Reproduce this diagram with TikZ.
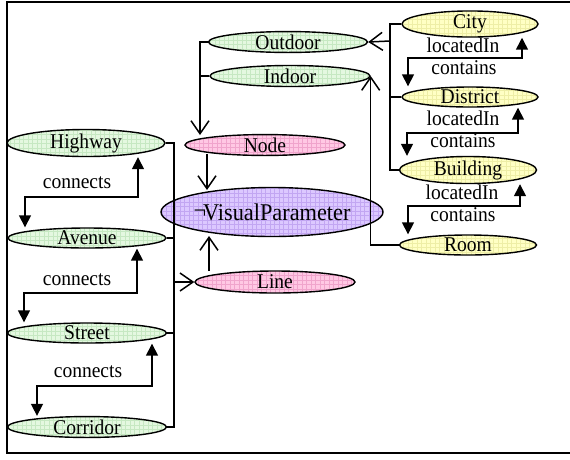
\documentclass[tikz,border=0pt]{standalone}
\usepackage{fontspec}
\setmainfont{Liberation Serif}[FakeStretch=0.93]
\usetikzlibrary{shapes.geometric,arrows.meta,calc}
\definecolor{gfill}{HTML}{E4F8E0}
\definecolor{ggrid}{HTML}{C6E8C2}
\definecolor{pfill}{HTML}{FFC8E4}
\definecolor{pgrid}{HTML}{F0A4CC}
\definecolor{vfill}{HTML}{DCC8FF}
\definecolor{vgrid}{HTML}{C2A6F2}
\definecolor{yfill}{HTML}{FFFFC4}
\definecolor{ygrid}{HTML}{EEEEA6}
\begin{document}
\begin{tikzpicture}[x=1pt,y=-1pt,
  ell/.style={ellipse,draw,line width=1.4pt,inner sep=0pt,minimum height=20pt,
    font=\fontsize{21}{21}\selectfont},
  greenell/.style={ell,fill=gfill,path picture={\draw[ggrid,line width=0.4pt,step=4.5pt]
    (path picture bounding box.south west) grid (path picture bounding box.north east);}},
  pinkell/.style={ell,fill=pfill,path picture={\draw[pgrid,line width=0.4pt,step=4.5pt]
    (path picture bounding box.south west) grid (path picture bounding box.north east);}},
  purpleell/.style={ell,fill=vfill,path picture={\draw[vgrid,line width=0.4pt,step=4.5pt]
    (path picture bounding box.south west) grid (path picture bounding box.north east);}},
  yellowell/.style={ell,fill=yfill,path picture={\draw[ygrid,line width=0.4pt,step=4.5pt]
    (path picture bounding box.south west) grid (path picture bounding box.north east);}},
  isa/.style={-{Straight Barb[length=13pt,width=18pt]},line width=1.5pt},
  rel/.style={{Triangle[length=12pt,width=12pt]}-{Triangle[length=12pt,width=12pt]},line width=1.5pt},
  wire/.style={line width=1.5pt},
  lbl/.style={font=\fontsize{21}{21}\selectfont,inner sep=0pt}
]
\useasboundingbox (0,0) rectangle (570,459);
\draw[line width=2pt] (572,1.5) -- (6.5,1.5) -- (6.5,453) -- (572,453);

% left column
\node[greenell,minimum width=158pt] (hw) at (86,143) {Highway};
\node[greenell,minimum width=158pt] (av) at (87,238) {Avenue};
\node[greenell,minimum width=159pt] (st) at (87,333) {Street};
\node[greenell,minimum width=159pt] (co) at (87,427) {Corridor};

% centre
\node[greenell,minimum width=159pt] (od) at (288,42) {Outdoor};
\node[greenell,minimum width=160pt,minimum height=21pt] (id) at (290,76) {Indoor};
\node[pinkell,minimum width=160pt] (nd) at (265,145) {Node};
\node[purpleell,minimum width=185pt,minimum height=49pt,font=\fontsize{24}{24}\selectfont] (vp) at (272,212) {\raisebox{2pt}{¬}\kern-3pt VisualParameter};
\node[pinkell,minimum width=160pt,minimum height=22pt] (ln) at (275,282) {Line};

% right column
\node[yellowell,minimum width=136pt,minimum height=19pt] (ct) at (470,24) {City};
\node[yellowell,minimum width=136pt] (ds) at (470,97) {District};
\node[yellowell,minimum width=137pt,minimum height=21pt] (bd) at (468,170) {Building};
\node[yellowell,minimum width=137pt] (rm) at (468,245) {Room};

% bus: roads -> Line
\coordinate (busL) at (174,282);
\draw[wire] (hw.east) -| (busL) |- (co.east);
\draw[wire] (av.east) -- (av.east -| busL);
\draw[wire] (st.east) -- (st.east -| busL);
\draw[isa] (busL) -- (ln.west);

% bus: Outdoor/Indoor -> Node
\coordinate (ndtop) at (200,135);
\draw[isa] (od.west) -| (ndtop);
\draw[wire] (id.west) -- (id.west -| ndtop);

% Node, Line -> VisualParameter
\coordinate (n1) at (207,154);
\coordinate (n2) at (207,190);
\draw[isa] (n1) -- (n2);
\coordinate (l1) at (209,271);
\coordinate (l2) at (209,236);
\draw[isa] (l1) -- (l2);

% Room -> Indoor
\draw[isa] (rm.west) -| (id.east);

% bus: City/District/Building -> Outdoor
\coordinate (busR) at (390,41);
\draw[wire] (ct.west) -| (busR) |- (bd.west);
\draw[wire] (ds.west) -- (ds.west -| busR);
\draw[isa] (busR) -- (od.east);

% connects relations
\coordinate (h1) at (0,197);
\coordinate (p1) at ([xshift=52]hw.south);
\coordinate (q1) at ([xshift=-62]av.north);
\draw[rel] (p1) -- (p1 |- h1) -- (q1 |- h1) -- (q1);
\node[lbl] (c1) at (77,183) {connects};

\coordinate (h2) at (0,293);
\coordinate (p2) at ([xshift=50]av.south);
\coordinate (q2) at ([xshift=-63]st.north);
\draw[rel] (p2) -- (p2 |- h2) -- (q2 |- h2) -- (q2);
\node[lbl] (c2) at (77,280) {connects};

\coordinate (h3) at (0,386);
\coordinate (p3) at ([xshift=65]st.south);
\coordinate (q3) at ([xshift=-50]co.north);
\draw[rel] (p3) -- (p3 |- h3) -- (q3 |- h3) -- (q3);
\node[lbl] (c3) at (88,372) {connects};

% locatedIn / contains
\coordinate (h4) at (0,58);
\coordinate (p4) at ([xshift=52]ct.south);
\coordinate (q4) at ([xshift=-62]ds.north);
\draw[rel] (p4) -- (p4 |- h4) -- (q4 |- h4) -- (q4);
\node[lbl] (li1) at (463,45) {locatedIn};
\node[lbl] (cn1) at (464,68) {contains};

\coordinate (h5) at (0,133);
\coordinate (p5) at ([xshift=48]ds.south);
\coordinate (q5) at ([xshift=-61]bd.north);
\draw[rel] (p5) -- (p5 |- h5) -- (q5 |- h5) -- (q5);
\node[lbl] (li2) at (463,118) {locatedIn};
\node[lbl] (cn2) at (463,141) {contains};

\coordinate (h6) at (0,206);
\coordinate (p6) at ([xshift=52]bd.south);
\coordinate (q6) at ([xshift=-60]rm.north);
\draw[rel] (p6) -- (p6 |- h6) -- (q6 |- h6) -- (q6);
\node[lbl] (li3) at (462,192) {locatedIn};
\node[lbl] (cn3) at (463,215) {contains};
\end{tikzpicture}
\end{document}
